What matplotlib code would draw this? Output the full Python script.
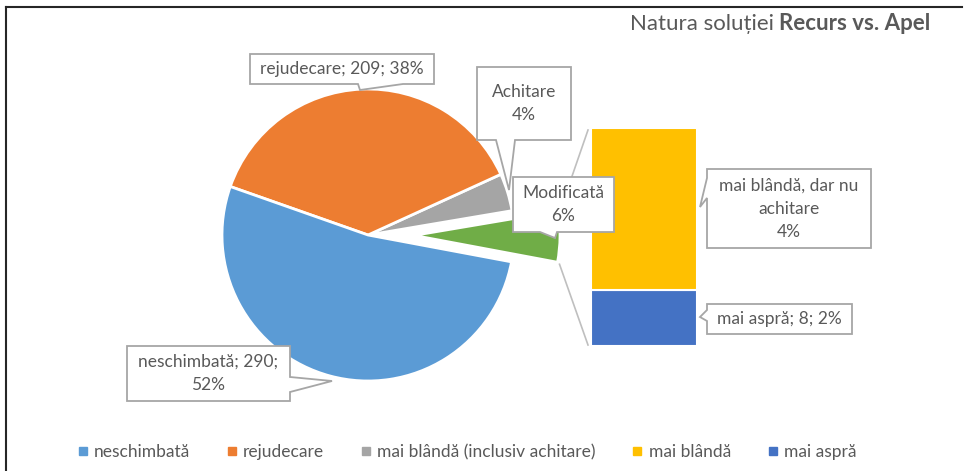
import matplotlib
matplotlib.use("Agg")
import matplotlib.pyplot as plt
from matplotlib.patches import Polygon
from matplotlib.lines import Line2D
import numpy as np

plt.rcParams['font.family'] = ['Lato', 'DejaVu Sans']

# pie slices, counterclockwise starting from the split slice
pie_names = ['Modificată', 'Achitare', 'rejudecare', 'neschimbată']
pie_values = [31, 23, 209, 290]
pie_colors = ['#70AD47', '#A5A5A5', '#ED7D31', '#5B9BD5']

# stacked bar = split of "Modificată" (bottom to top)
bar_names = ['mai aspră', 'mai blândă, dar nu\nachitare']
bar_values = [8, 23]
bar_colors = ['#4472C4', '#FFC000']

# data label texts as shown
label_neschimbata = 'neschimbată; 290;\n52%'
label_rejudecare = 'rejudecare; 209; 38%'
label_achitare = 'Achitare\n4%'
label_modificata = 'Modificată\n6%'
label_blanda = 'mai blândă, dar nu\nachitare\n4%'
label_aspra = 'mai aspră; 8; 2%'

legend_names = ['neschimbată', 'rejudecare', 'mai blândă (inclusiv achitare)',
                'mai blândă', 'mai aspră']
legend_colors = ['#5B9BD5', '#ED7D31', '#A5A5A5', '#FFC000', '#4472C4']

TXT = '#595959'
W, H = 966, 471
fig = plt.figure(figsize=(W / 100, H / 100), dpi=100)
ax = fig.add_axes([0, 0, 1, 1])


def Y(y):
    # pixel row (from top) -> data y
    return H - y


# pie (explode is in data units = pixels here)
cx, cy, r = 368, Y(235), 146
wedges, _ = ax.pie(pie_values, colors=pie_colors, startangle=-10.6, counterclock=True,
                   radius=r, center=(cx, cy), explode=[46, 0, 0, 0],
                   wedgeprops=dict(edgecolor='white', linewidth=2))
ax.set_xlim(0, W)
ax.set_ylim(0, H)
ax.set_aspect('equal')
ax.axis('off')

# bar of the split slice
bx, bw = 644, 106
scale = 218 / sum(bar_values)
bottom = Y(346)
for v, c in zip(bar_values, bar_colors):
    ax.bar(bx, v * scale, width=bw, bottom=bottom, color=c, edgecolor='white', linewidth=1.5)
    bottom += v * scale
bar_top = bottom
bar_bot = Y(346)

# connector lines
g = wedges[0]
gx, gy = g.center
t1, t2 = np.radians(g.theta1), np.radians(g.theta2)
ax.plot([gx + r * np.cos(t2) + 2, bx - bw / 2 - 3], [gy + r * np.sin(t2), bar_top - 2],
        color='#BFBFBF', lw=1.2, zorder=1)
ax.plot([gx + r * np.cos(t1) + 2, bx - bw / 2 - 3], [gy + r * np.sin(t1) - 2, bar_bot + 1],
        color='#BFBFBF', lw=1.2, zorder=1)


def callout(text, box, tip, side, base, fs=12.5):
    x0, y0, x1, y1 = box
    b0, b1 = base
    if side == 'bottom':
        pts = [(x0, y0), (x1, y0), (x1, y1), (b1, y1), tip, (b0, y1), (x0, y1)]
    elif side == 'left':
        pts = [(x0, y0), (x1, y0), (x1, y1), (x0, y1), (x0, b1), tip, (x0, b0)]
    else:
        pts = [(x0, y0), (x1, y0), (x1, b0), tip, (x1, b1), (x1, y1), (x0, y1)]
    ax.add_patch(Polygon([(x, Y(y)) for x, y in pts], closed=True, fc='white',
                         ec='#A6A6A6', lw=1.3, zorder=5))
    ax.text((x0 + x1) / 2, Y((y0 + y1) / 2), text, ha='center', va='center',
            fontsize=fs, color=TXT, linespacing=1.55, zorder=6)


callout(label_rejudecare, (250, 54, 434, 84), (360, 90), 'bottom', (358, 403))
callout(label_achitare, (477, 67, 571, 140), (509, 190), 'bottom', (496, 515))
callout(label_modificata, (513, 177, 614, 232), (555, 238), 'bottom', (540, 557))
callout(label_blanda, (707, 169, 871, 248), (700, 207), 'left', (178, 198))
callout(label_aspra, (707, 304, 852, 334), (700, 317), 'left', (310, 321))
callout(label_neschimbata, (127, 346, 290, 401), (332, 381), 'right', (377, 392))

# title (regular + bold part, right aligned)
tb = ax.text(930, Y(24), 'Recurs vs. Apel', ha='right', va='center', fontsize=16,
             fontweight='bold', color=TXT)
fig.canvas.draw()
ext = tb.get_window_extent().transformed(ax.transData.inverted())
ax.text(ext.x0 - 5, Y(24), 'Natura soluției', ha='right', va='center', fontsize=16, color=TXT)

# frame lines (top and left)
ax.plot([6, 962], [Y(7), Y(7)], color='#262626', lw=1.5, clip_on=False)
ax.plot([6, 6], [Y(7), 0], color='#262626', lw=1.5, clip_on=False)

handles = [Line2D([], [], marker='s', ls='', color=c, markersize=6) for c in legend_colors]
fig.legend(handles, legend_names, ncol=5, loc='center', bbox_to_anchor=(466 / W, 1 - 452 / H),
           frameon=False, fontsize=12.5, handletextpad=0.25, columnspacing=2.0,
           handlelength=0.8, labelcolor=TXT)

fig.savefig('out.png', dpi=100)
